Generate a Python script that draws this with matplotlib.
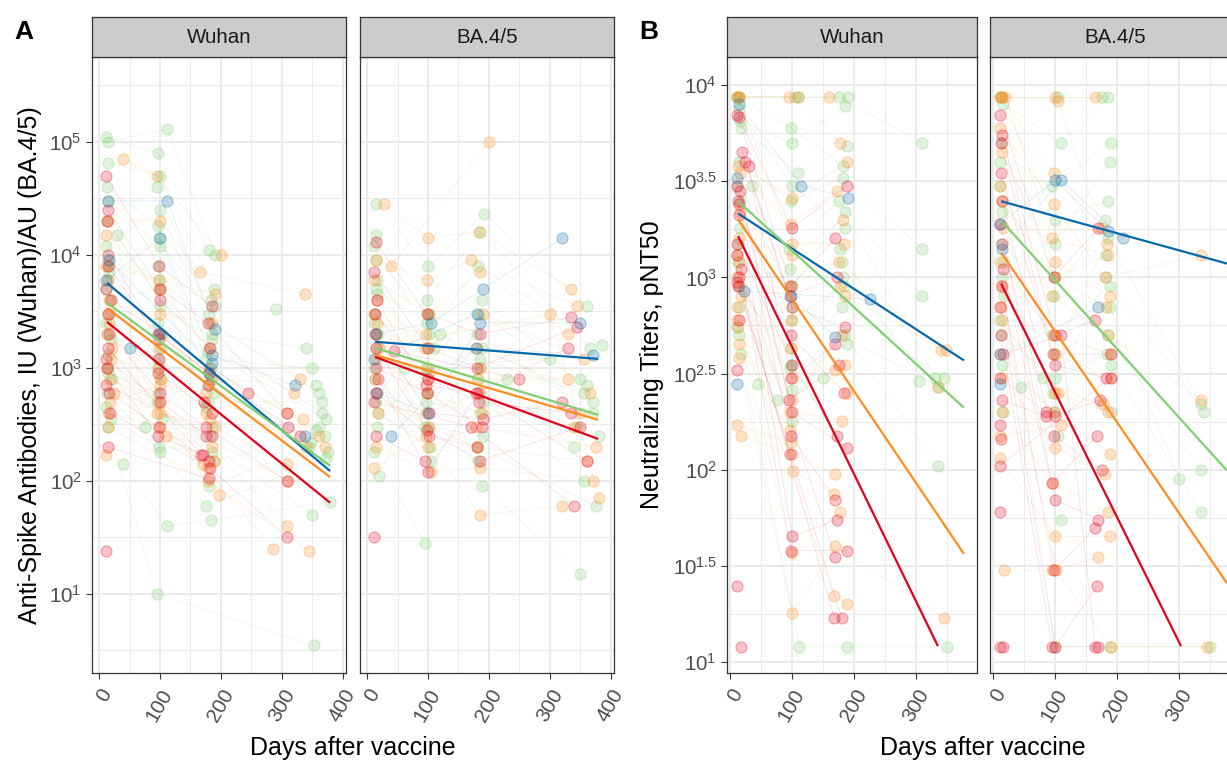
import numpy as np
import matplotlib
matplotlib.use("Agg")
import matplotlib.pyplot as plt
from matplotlib.ticker import FixedLocator, NullFormatter

plt.rcParams['font.family'] = ['Liberation Sans', 'DejaVu Sans']
plt.rcParams['mathtext.fontset'] = 'custom'
plt.rcParams['mathtext.rm'] = 'Liberation Sans'
plt.rcParams['mathtext.it'] = 'Liberation Sans:italic'
plt.rcParams['mathtext.default'] = 'regular'

# group colours (red, orange, green, blue)
COLORS = {"red": "#E3001B", "orange": "#FF8C1F", "green": "#7FCF73", "blue": "#0868AC"}

# ---- Panel A, Wuhan: each subject = [(day, IU), ...]
A_WUH_RED = [
    [(12, 50000), (98, 8000), (185, 3500)],
    [(14, 25000), (100, 5000), (178, 2500), (308, 400)],
    [(15, 10000), (96, 2000), (180, 900), (310, 300)],
    [(12, 5000), (98, 1200), (172, 500)],
    [(16, 2000), (100, 600), (175, 300), (308, 100)],
    [(13, 1000), (97, 250), (170, 170)],
    [(18, 400), (182, 130), (308, 32)],
    [(14, 200), (180, 105)],
    [(12, 24)],
    [(20, 4000), (245, 600)],
    [(14, 1500), (168, 170)],
    [(12, 700), (185, 250)],
    [(13, 20000), (100, 4000), (182, 1500)],
    [(15, 8000), (98, 1800), (178, 700), (330, 250)],
    [(14, 3000), (96, 900), (186, 400)],
    [(12, 1200), (100, 500), (176, 250)],
    [(16, 600), (98, 300), (180, 150)],
]
A_WUH_ORANGE = [
    [(40, 70000), (95, 50000), (200, 10000)],
    [(14, 20000), (100, 20000), (165, 7000), (338, 4500)],
    [(12, 8000), (98, 6000), (190, 4500)],
    [(15, 3000), (100, 3000), (185, 2500), (330, 800)],
    [(13, 1000), (98, 1500), (180, 1000), (308, 400)],
    [(18, 500), (100, 700), (175, 600), (340, 200)],
    [(12, 170), (95, 400), (190, 300), (308, 140)],
    [(20, 1200), (110, 250), (185, 200), (308, 40)],
    [(25, 600), (170, 140), (285, 25)],
    [(14, 300), (178, 100), (345, 24)],
    [(16, 2500), (196, 75)],
    [(22, 1500), (100, 400), (310, 100)],
    [(12, 15000), (98, 5000), (180, 1500), (320, 600)],
    [(14, 6000), (100, 2000), (186, 800), (335, 350)],
    [(16, 4000), (96, 1000), (176, 400), (360, 250)],
    [(13, 2000), (102, 800), (182, 350), (370, 200)],
    [(18, 800), (98, 500), (188, 150)],
    [(15, 400), (100, 300), (178, 130)],
]
A_WUH_GREEN = [
    [(12, 110000), (96, 80000), (180, 11000)],
    [(14, 100000), (112, 130000), (190, 10000)],
    [(15, 65000), (100, 50000), (188, 5000)],
    [(13, 20000), (95, 40000), (180, 3000), (290, 3300)],
    [(12, 12000), (100, 25000), (185, 2000), (340, 1500)],
    [(16, 8000), (98, 14000), (175, 1200), (350, 1000)],
    [(14, 6000), (96, 8000), (182, 800), (355, 700)],
    [(18, 4000), (100, 5000), (178, 500), (365, 500)],
    [(12, 2500), (104, 2000), (185, 300), (360, 300)],
    [(20, 1800), (98, 1000), (188, 150), (370, 250)],
    [(15, 1000), (95, 500), (180, 90), (345, 200)],
    [(13, 600), (100, 180), (176, 60), (372, 160)],
    [(40, 140), (112, 40), (184, 45), (378, 65)],
    [(14, 300), (95, 10), (352, 3.5)],
    [(22, 800), (350, 50)],
    [(30, 15000), (75, 300)],
    [(14, 9000), (98, 6000), (182, 2500), (360, 600)],
    [(16, 7000), (100, 3500), (186, 1800), (365, 400)],
    [(12, 5000), (96, 2500), (178, 1400), (372, 350)],
    [(18, 3000), (102, 1500), (184, 1000), (355, 280)],
    [(13, 2000), (97, 1200), (180, 700), (348, 220)],
    [(15, 1300), (100, 800), (188, 600), (375, 180)],
    [(14, 900), (96, 600), (176, 450)],
    [(12, 450), (104, 350), (182, 250)],
    [(20, 350), (98, 200), (186, 180)],
    [(15, 30000), (100, 12000), (190, 3500)],
    [(13, 40000), (96, 18000), (184, 4000)],
]
A_WUH_BLUE = [
    [(14, 30000), (112, 30000), (190, 2200)],
    [(12, 6000), (100, 14000), (185, 1300), (322, 700)],
    [(50, 1500), (98, 2000), (180, 900), (338, 250)],
    [(16, 9000), (185, 1100)],
]

# ---- Panel A, BA.4/5
A_BA_RED = [
    [(14, 13000), (98, 3000), (185, 2000), (335, 2800)],
    [(12, 7000), (100, 1500), (180, 1000), (345, 2300)],
    [(16, 4000), (96, 700), (178, 600), (330, 1500)],
    [(13, 2000), (102, 400), (190, 350), (320, 500)],
    [(15, 1500), (98, 280), (185, 150), (350, 300)],
    [(18, 800), (100, 120), (182, 600), (360, 150)],
    [(12, 500), (170, 300), (340, 60)],
    [(14, 250), (95, 150)],
    [(12, 32)],
    [(45, 1400), (250, 800)],
    [(13, 3000), (100, 800), (184, 500), (335, 400)],
    [(15, 1000), (98, 600), (188, 300)],
    [(14, 600), (102, 250), (180, 200)],
]
A_BA_ORANGE = [
    [(28, 28000), (100, 14000), (183, 16000), (335, 5000)],
    [(14, 9000), (98, 6000), (170, 9000), (345, 3500)],
    [(12, 6000), (102, 3000), (185, 7000), (330, 2000)],
    [(16, 4000), (95, 1500), (190, 3000), (355, 1200)],
    [(15, 2000), (100, 800), (180, 1500), (365, 600)],
    [(13, 800), (97, 400), (185, 600), (340, 300)],
    [(18, 400), (100, 200), (178, 300), (375, 200)],
    [(14, 200), (105, 120), (185, 130), (370, 100)],
    [(12, 130), (96, 250), (185, 50), (320, 60)],
    [(40, 8000), (200, 100000)],
    [(20, 1500), (300, 3000), (380, 70)],
    [(12, 3000), (100, 1000), (182, 800), (330, 800)],
    [(15, 1200), (98, 600), (188, 400), (350, 400)],
    [(14, 600), (102, 300), (180, 200), (360, 150)],
    [(16, 2500), (96, 2000), (185, 1000)],
]
A_BA_GREEN = [
    [(15, 28000), (100, 8000), (192, 23000), (360, 3500)],
    [(14, 15000), (98, 4000), (186, 16000), (365, 1500)],
    [(12, 12000), (102, 2000), (182, 8000), (385, 1600)],
    [(16, 6000), (96, 1000), (188, 4000), (350, 800)],
    [(13, 3000), (100, 600), (180, 2000), (370, 400)],
    [(18, 2000), (95, 300), (185, 1000), (340, 200)],
    [(12, 1000), (105, 150), (190, 500), (355, 100)],
    [(14, 500), (100, 3000), (182, 200), (375, 60)],
    [(17, 300), (110, 1500), (188, 90), (350, 15)],
    [(12, 180), (95, 28)],
    [(20, 110), (120, 2000), (230, 800)],
    [(60, 1000), (300, 1200)],
    [(14, 9000), (100, 3000), (184, 3000), (360, 700)],
    [(16, 4500), (98, 1500), (188, 1500), (370, 500)],
    [(12, 2500), (102, 900), (180, 800), (345, 300)],
    [(15, 1500), (96, 500), (186, 400), (380, 250)],
    [(13, 800), (100, 300), (190, 250)],
    [(18, 400), (104, 200), (182, 150)],
    [(14, 5000), (98, 2500), (186, 1200), (355, 600)],
]
A_BA_BLUE = [
    [(14, 2000), (105, 2500), (190, 5000), (320, 14000)],
    [(16, 600), (100, 400), (185, 2500), (350, 2500)],
    [(40, 250), (178, 1500), (370, 1300)],
    [(12, 1200), (180, 3000)],
]

# ---- Panel B, Wuhan: each subject = [(day, pNT50), ...]
B_WUH_RED = [
    [(12, 7000), (100, 1800), (188, 3000)],
    [(14, 6800), (98, 900), (170, 1600)],
    [(20, 4500), (96, 800), (172, 1000)],
    [(25, 4000), (100, 700), (185, 550)],
    [(30, 3800), (98, 300), (170, 450)],
    [(12, 3000), (95, 230), (175, 350)],
    [(16, 2800), (100, 200), (188, 130)],
    [(13, 2500), (98, 150), (170, 70)],
    [(15, 2100), (100, 45), (172, 55)],
    [(12, 1300), (98, 38), (188, 38)],
    [(18, 1100), (170, 35)],
    [(14, 1000), (168, 17)],
    [(12, 950), (96, 120)],
    [(13, 900), (180, 17)],
    [(15, 600)],
    [(12, 330)],
    [(12, 25)],
    [(18, 12)],
    [(14, 2400), (98, 500), (184, 250)],
    [(12, 1500), (100, 350), (172, 150)],
]
B_WUH_ORANGE = [
    [(12, 8700), (95, 8700), (160, 8700)],
    [(15, 8700), (110, 8700), (178, 5000)],
    [(13, 3800), (100, 2600), (188, 4000)],
    [(16, 3500), (98, 1900), (172, 2800)],
    [(14, 1600), (100, 1300), (182, 2000)],
    [(12, 1300), (95, 900), (175, 1200), (340, 420)],
    [(18, 800), (98, 430), (185, 800), (348, 420)],
    [(12, 700), (100, 230), (180, 500), (335, 270)],
    [(14, 450), (96, 160), (170, 330)],
    [(12, 170), (98, 140), (188, 250)],
    [(18, 150), (100, 120), (170, 95)],
    [(15, 1200), (102, 98), (168, 75)],
    [(13, 550), (100, 37), (178, 60)],
    [(14, 380), (100, 18), (170, 40), (345, 17)],
    [(12, 600), (168, 22), (188, 20)],
    [(14, 8700), (100, 1500), (184, 1500)],
    [(16, 2200), (98, 600), (178, 900)],
    [(12, 1000), (100, 300), (186, 350)],
    [(14, 900), (96, 200), (180, 180)],
]
B_WUH_GREEN = [
    [(12, 8700), (104, 8700), (175, 8700), (310, 5000)],
    [(14, 8700), (110, 8700), (190, 8700)],
    [(16, 6500), (100, 5000), (185, 7800)],
    [(18, 6000), (110, 3500), (188, 4800)],
    [(14, 4000), (98, 2500), (182, 3300), (310, 1400)],
    [(12, 3000), (95, 1400), (175, 2500), (310, 800)],
    [(16, 1800), (100, 900), (185, 2200), (330, 300)],
    [(13, 1200), (100, 700), (178, 1400), (305, 290)],
    [(15, 700), (98, 430), (182, 1000), (335, 270)],
    [(12, 550), (96, 340), (180, 700), (345, 300)],
    [(14, 500), (100, 260), (185, 500), (335, 105)],
    [(18, 400), (112, 12), (188, 12), (350, 12)],
    [(45, 280), (75, 230), (150, 300)],
    [(35, 3000), (100, 180)],
    [(12, 8700), (98, 6000), (182, 3800)],
    [(14, 7500), (100, 3000), (186, 1800)],
    [(16, 2500), (96, 1100), (180, 1200)],
    [(13, 1500), (100, 600), (184, 900)],
    [(15, 900), (98, 350), (188, 450)],
]
B_WUH_BLUE = [
    [(14, 8000), (115, 3000), (190, 2600)],
    [(12, 3300), (98, 800), (170, 490)],
    [(22, 850), (225, 770)],
    [(12, 280)],
]

# ---- Panel B, BA.4/5
B_BA_RED = [
    [(12, 7000), (98, 1000), (170, 1800)],
    [(14, 5500), (100, 500), (165, 600)],
    [(13, 5000), (96, 400), (190, 400)],
    [(15, 2500), (100, 190), (172, 230)],
    [(12, 1900), (95, 85), (168, 150)],
    [(16, 1100), (100, 70), (170, 55)],
    [(14, 900), (98, 30), (165, 50)],
    [(12, 700), (100, 12), (168, 25)],
    [(13, 500), (95, 12), (170, 12)],
    [(16, 400), (110, 500), (165, 12)],
    [(12, 300), (85, 200)],
    [(14, 230), (85, 190)],
    [(12, 170)],
    [(13, 145)],
    [(12, 105), (190, 300)],
    [(12, 60)],
    [(12, 12)],
    [(16, 12)],
    [(13, 3500), (100, 350), (182, 300)],
    [(15, 1500), (98, 150), (176, 100)],
]
B_BA_ORANGE = [
    [(12, 8700), (100, 8700), (165, 8700)],
    [(15, 8700), (105, 8300), (175, 1800)],
    [(20, 8700), (95, 1600), (185, 1300)],
    [(12, 6000), (98, 2400), (180, 1000), (335, 1300)],
    [(14, 4500), (100, 1200), (188, 800)],
    [(12, 3000), (95, 800), (185, 500), (335, 230)],
    [(16, 1800), (100, 400), (190, 300)],
    [(13, 900), (104, 250), (178, 220)],
    [(12, 400), (98, 200), (188, 120)],
    [(15, 300), (100, 130), (180, 95)],
    [(14, 200), (96, 85), (185, 60)],
    [(12, 115), (100, 45), (188, 45)],
    [(18, 30), (95, 30), (170, 35)],
    [(13, 700), (102, 30), (190, 12), (345, 12)],
    [(12, 150), (110, 170)],
    [(13, 8700), (98, 3500), (184, 1500)],
    [(15, 2500), (100, 1000), (182, 700)],
    [(12, 1200), (96, 500), (188, 400)],
    [(14, 600), (100, 250), (186, 200)],
]
B_BA_GREEN = [
    [(14, 8700), (105, 8700), (175, 8700)],
    [(16, 8000), (110, 5000), (185, 8700)],
    [(12, 4000), (95, 3000), (190, 5000)],
    [(15, 2200), (100, 1500), (188, 4000)],
    [(13, 1500), (98, 800), (180, 2000)],
    [(18, 800), (100, 400), (185, 1600), (335, 220)],
    [(12, 600), (96, 250), (182, 1000), (340, 200)],
    [(14, 350), (100, 200), (188, 700), (300, 90)],
    [(16, 200), (104, 150), (185, 500), (335, 100)],
    [(12, 3000), (110, 55), (190, 350), (335, 60)],
    [(45, 270), (80, 300), (190, 200)],
    [(14, 1000), (100, 12), (188, 12), (350, 12)],
    [(12, 8700), (100, 2000), (186, 2500)],
    [(14, 5000), (98, 1000), (182, 1300)],
    [(16, 1200), (96, 500), (188, 900)],
    [(13, 500), (100, 300), (184, 400)],
]
B_BA_BLUE = [
    [(12, 1900), (100, 3200), (185, 1750)],
    [(14, 1400), (110, 3200), (210, 1600)],
    [(12, 400), (170, 700)],
    [(12, 280)],
]

# fitted decay lines per group: (start day, start value, end day, end value)
FIT_A_WUH = {"blue": (13, 5650, 379, 122), "green": (13, 3760, 379, 136),
             "orange": (13, 3390, 379, 108), "red": (13, 2550, 379, 64)}
FIT_A_BA = {"blue": (13, 1700, 379, 1200), "green": (13, 1500, 379, 384),
            "orange": (13, 1300, 379, 347), "red": (13, 1250, 379, 235)}
FIT_B_WUH = {"blue": (13, 2150, 377, 370), "green": (13, 2490, 377, 210),
             "orange": (13, 2005, 377, 36.5), "red": (13, 1640, 335, 12.1)}
FIT_B_BA = {"blue": (13, 2490, 377, 1180), "green": (13, 1980, 377, 99),
            "orange": (13, 1350, 377, 25.7), "red": (13, 930, 303, 12.1)}

FACET_NAMES = ["Wuhan", "BA.4/5"]
X_TICKS_A = [0, 100, 200, 300, 400]
X_TICKS_B = [0, 100, 200, 300]
Y_EXP_A = [1, 2, 3, 4, 5]
Y_EXP_B = [1, 1.5, 2, 2.5, 3, 3.5, 4]

W, H = 1227, 762
fig = plt.figure(figsize=(W / 100, H / 100), dpi=100)

BORDER = "#333333"
GRID = "#EBEBEB"


def px_axes(left, top, right, bottom):
    return fig.add_axes([left / W, 1 - bottom / H, (right - left) / W, (bottom - top) / H])


def rgba(c, a):
    r, g, b, _ = matplotlib.colors.to_rgba(c)
    return (r, g, b, a)


def draw_facet(left, right, name, groups, fits, xlim, xticks, ylim, yexp, yminor, ylabels):
    ax = px_axes(left, 57, right, 673)
    ax.set_yscale('log')
    # faint subject trajectories
    for key in ["green", "orange", "red", "blue"]:
        for subj in groups[key]:
            d = [p[0] for p in subj]
            v = [p[1] for p in subj]
            if len(subj) > 1:
                ax.plot(d, v, color=COLORS[key], lw=0.5, alpha=0.15, zorder=2)
    for key in ["green", "orange", "red", "blue"]:
        d = [p[0] for subj in groups[key] for p in subj]
        v = [p[1] for subj in groups[key] for p in subj]
        ax.scatter(d, v, s=64, facecolor=rgba(COLORS[key], 0.24),
                   edgecolor=rgba(COLORS[key], 0.32), lw=0.8, zorder=3)
    for key in ["blue", "green", "orange", "red"]:
        d0, v0, d1, v1 = fits[key]
        ax.plot([d0, d1], [v0, v1], color=COLORS[key], lw=1.6, zorder=4,
                solid_capstyle='butt')

    ax.set_xlim(*xlim)
    ax.set_ylim(*ylim)
    ax.set_xticks(xticks)
    ax.set_xticklabels([str(t) for t in xticks], rotation=60, ha='right', va='top',
                       rotation_mode='anchor', fontsize=14.8, color='#4D4D4D')
    ax.xaxis.set_minor_locator(FixedLocator([t + 50 for t in range(0, 400, 100)]))
    ax.set_yticks([10 ** e for e in yexp])
    ax.yaxis.set_minor_locator(FixedLocator([10 ** e for e in yminor]))
    ax.yaxis.set_minor_formatter(NullFormatter())
    ax.tick_params(which='minor', length=0)
    ax.tick_params(which='major', color=BORDER, width=0.8, length=4.3, pad=3)
    ax.tick_params(axis='x', pad=5)
    if ylabels:
        ax.set_yticklabels(['$10^{%g}$' % e for e in yexp], fontsize=14.8, color='#4D4D4D')
    else:
        ax.set_yticklabels([])
        ax.tick_params(axis='y', which='major', length=0)
    ax.grid(which='major', color=GRID, lw=1.4)
    ax.grid(which='minor', color=GRID, lw=0.7)
    ax.set_axisbelow(True)
    for sp in ax.spines.values():
        sp.set_color(BORDER)
        sp.set_linewidth(0.9)

    strip = px_axes(left, 17, right, 57)
    strip.set_facecolor('#CCCCCC')
    strip.set_xticks([])
    strip.set_yticks([])
    for sp in strip.spines.values():
        sp.set_color(BORDER)
        sp.set_linewidth(0.9)
    strip.text(0.5, 0.48, name, transform=strip.transAxes, ha='center', va='center',
               fontsize=14.8, color='#1A1A1A')
    return ax


xlim_a = (-11.5, 405)
ylim_a = (10 ** 0.30, 10 ** 5.75)
minor_a = [0.5, 1.5, 2.5, 3.5, 4.5, 5.5]
draw_facet(92, 346, FACET_NAMES[0],
           {"red": A_WUH_RED, "orange": A_WUH_ORANGE, "green": A_WUH_GREEN, "blue": A_WUH_BLUE},
           FIT_A_WUH, xlim_a, X_TICKS_A, ylim_a, Y_EXP_A, minor_a, True)
draw_facet(360, 614, FACET_NAMES[1],
           {"red": A_BA_RED, "orange": A_BA_ORANGE, "green": A_BA_GREEN, "blue": A_BA_BLUE},
           FIT_A_BA, xlim_a, X_TICKS_A, ylim_a, Y_EXP_A, minor_a, False)

xlim_b = (-4.8, 398)
ylim_b = (10 ** 0.943, 10 ** 4.146)
minor_b = [1.25, 1.75, 2.25, 2.75, 3.25, 3.75]
draw_facet(727, 977, FACET_NAMES[0],
           {"red": B_WUH_RED, "orange": B_WUH_ORANGE, "green": B_WUH_GREEN, "blue": B_WUH_BLUE},
           FIT_B_WUH, xlim_b, X_TICKS_B, ylim_b, Y_EXP_B, minor_b, True)
draw_facet(990, 1240, FACET_NAMES[1],
           {"red": B_BA_RED, "orange": B_BA_ORANGE, "green": B_BA_GREEN, "blue": B_BA_BLUE},
           FIT_B_BA, xlim_b, X_TICKS_B, ylim_b, Y_EXP_B, minor_b, False)

# axis titles and panel letters
fig.text(353 / W, 1 - 748 / H, "Days after vaccine", ha='center', va='center', fontsize=18)
fig.text(983 / W, 1 - 748 / H, "Days after vaccine", ha='center', va='center', fontsize=18)
fig.text(30 / W, 1 - 365 / H, "Anti-Spike Antibodies, IU (Wuhan)/AU (BA.4/5)",
         rotation=90, ha='center', va='center', fontsize=18)
fig.text(652 / W, 1 - 365 / H, "Neutralizing Titers, pNT50",
         rotation=90, ha='center', va='center', fontsize=18)
fig.text(14 / W, 1 - 39 / H, "A", fontsize=19, fontweight='bold', va='baseline')
fig.text(639 / W, 1 - 39 / H, "B", fontsize=19, fontweight='bold', va='baseline')

fig.savefig("out.png", dpi=100)
